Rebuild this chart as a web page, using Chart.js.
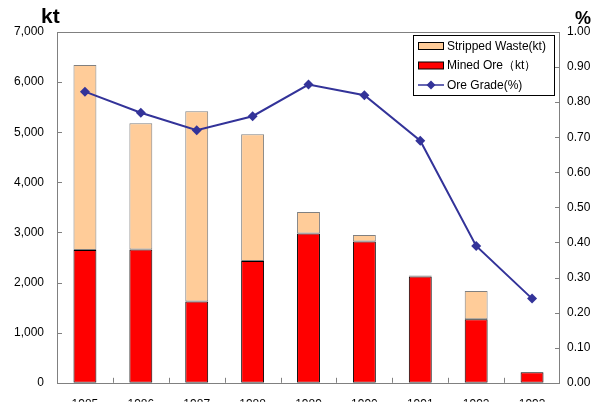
<!DOCTYPE html>
<html>
<head>
<meta charset="utf-8">
<script src="https://cdn.jsdelivr.net/npm/chart.js@4/dist/chart.umd.min.js"></script>
<style>
  html, body { margin: 0; padding: 0; background: #fff; }
  #wrap { width: 598px; height: 403px; }
</style>
</head>
<body>
<div id="wrap"><canvas id="c" width="598" height="403"></canvas></div>
<script>
// Production by year
const years = ['1985', '1986', '1987', '1988', '1989', '1990', '1991', '1992', '1993'];
const minedOre = [2650, 2660, 1620, 2430, 2980, 2820, 2120, 1270, 210];        // kt
const strippedWaste = [3690, 2520, 3800, 2530, 430, 130, 20, 560, 0];          // kt
const oreGrade = [0.83, 0.77, 0.72, 0.76, 0.85, 0.82, 0.69, 0.39, 0.24];       // %

const seriesLabels = ['Mined Ore\uFF08kt\uFF09', 'Stripped Waste(kt)', 'Ore Grade(%)'];
const legendOrder = [1, 0, 2];

const FONT = '"Liberation Sans", Arial, sans-serif';
const FRAME = '#808080';

// Outer frame, inward tick marks and the two unit captions
const framePlugin = {
  id: 'frame',
  afterDatasetsDraw(chart) {
    const { ctx, chartArea: a, scales } = chart;
    ctx.save();
    ctx.strokeStyle = FRAME;
    ctx.lineWidth = 1;
    ctx.strokeRect(Math.round(a.left) + 0.5, Math.round(a.top) + 0.5,
                   Math.round(a.right - a.left) - 1, Math.round(a.bottom - a.top));
    ctx.beginPath();
    scales.y.ticks.forEach(t => {
      const y = Math.round(scales.y.getPixelForValue(t.value)) + 0.5;
      ctx.moveTo(a.left, y); ctx.lineTo(a.left + 5, y);
    });
    scales.y1.ticks.forEach(t => {
      const y = Math.round(scales.y1.getPixelForValue(t.value)) + 0.5;
      ctx.moveTo(a.right - 5, y); ctx.lineTo(a.right, y);
    });
    const n = years.length;
    for (let i = 1; i < n; i++) {
      const x = Math.round((scales.x.getPixelForTick(i - 1) + scales.x.getPixelForTick(i)) / 2) + 0.5;
      ctx.moveTo(x, a.bottom); ctx.lineTo(x, a.bottom - 5);
    }
    ctx.stroke();
    ctx.fillStyle = '#000';
    ctx.textBaseline = 'alphabetic';
    ctx.font = 'bold 21px ' + FONT;
    ctx.textAlign = 'left';
    ctx.fillText('kt', 41, 23);
    ctx.font = 'bold 18px ' + FONT;
    ctx.fillText('%', 575, 24);
    ctx.restore();
  }
};

// Boxed legend in the upper right of the plot
const boxLegend = {
  id: 'boxLegend',
  afterDraw(chart) {
    const { ctx } = chart;
    const ds = chart.data.datasets;
    const x0 = 413, y0 = 35, w = 141, h = 60;
    ctx.save();
    ctx.fillStyle = '#fff';
    ctx.fillRect(x0, y0, w, h);
    ctx.strokeStyle = '#000';
    ctx.lineWidth = 1;
    ctx.strokeRect(x0 + 0.5, y0 + 0.5, w, h);
    ctx.font = '12px ' + FONT;
    ctx.textBaseline = 'middle';
    ctx.textAlign = 'left';
    legendOrder.forEach((di, row) => {
      const d = ds[di];
      const cy = y0 + 11 + row * 19.5;
      if (d.type === 'line') {
        ctx.strokeStyle = d.borderColor;
        ctx.lineWidth = 1.5;
        ctx.beginPath();
        ctx.moveTo(418, cy); ctx.lineTo(444, cy);
        ctx.stroke();
        ctx.fillStyle = d.pointBackgroundColor;
        ctx.beginPath();
        ctx.moveTo(431, cy - 4.5); ctx.lineTo(435.5, cy);
        ctx.lineTo(431, cy + 4.5); ctx.lineTo(426.5, cy);
        ctx.closePath(); ctx.fill();
      } else {
        ctx.fillStyle = d.backgroundColor;
        ctx.fillRect(418, cy - 3.5, 26, 7);
        ctx.strokeStyle = '#000';
        ctx.lineWidth = 1;
        ctx.strokeRect(418.5, cy - 3.5, 25, 7);
      }
      ctx.fillStyle = '#000';
      ctx.fillText(d.label, 447, cy + 0.5);
    });
    ctx.restore();
  }
};

new Chart(document.getElementById('c'), {
  data: {
    labels: years,
    datasets: [
      {
        type: 'bar', label: seriesLabels[0], data: minedOre, yAxisID: 'y',
        backgroundColor: '#FF0000', borderColor: '#000000', borderWidth: 1,
        borderSkipped: false, order: 1
      },
      {
        type: 'bar', label: seriesLabels[1], data: strippedWaste, yAxisID: 'y',
        backgroundColor: '#FFCC99', borderColor: '#808080', borderWidth: 1,
        borderSkipped: false, order: 1
      },
      {
        type: 'line', label: seriesLabels[2], data: oreGrade, yAxisID: 'y1',
        borderColor: '#333399', borderWidth: 2, tension: 0,
        pointStyle: 'rectRot', pointRadius: 5, pointBorderWidth: 0,
        pointBackgroundColor: '#333399', pointBorderColor: '#333399', order: 0
      }
    ]
  },
  options: {
    responsive: false,
    animation: false,
    events: [],
    layout: { padding: { top: 32, left: 0, right: 0, bottom: 0 } },
    datasets: { bar: { barPercentage: 0.41, categoryPercentage: 1.0 } },
    plugins: { legend: { display: false }, tooltip: { enabled: false } },
    scales: {
      x: {
        stacked: true,
        grid: { display: false, drawTicks: false },
        border: { display: false },
        ticks: { color: '#000', font: { family: FONT, size: 12 }, padding: 15, maxRotation: 0 },
        afterFit(s) { s.height = 19; }
      },
      y: {
        stacked: true, position: 'left', min: 0, max: 7000,
        grid: { display: false, drawTicks: false },
        border: { display: false },
        ticks: {
          stepSize: 1000, color: '#000', font: { family: FONT, size: 12 }, padding: 13,
          callback: v => v.toLocaleString('en-US')
        },
        afterFit(s) { s.width = 57; }
      },
      y1: {
        position: 'right', min: 0, max: 1,
        grid: { display: false, drawTicks: false },
        border: { display: false },
        ticks: {
          stepSize: 0.1, color: '#000', font: { family: FONT, size: 12 }, padding: 7,
          callback: v => Number(v).toFixed(2)
        },
        afterFit(s) { s.width = 38; }
      }
    }
  },
  plugins: [framePlugin, boxLegend]
});
</script>
</body>
</html>
